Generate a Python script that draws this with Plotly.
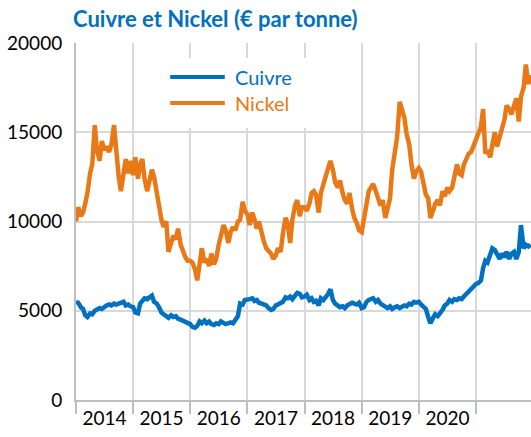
import pandas as pd
import plotly.graph_objects as go

# Semi-monthly prices (EUR per tonne), Jan 2014 - Dec 2021
cuivre = [
    # 2014
    5500, 5450, 5200, 5100, 4750, 4650, 4850, 4800, 5000, 5100, 5150, 5100,
    5250, 5300, 5350, 5300, 5400, 5350, 5400, 5450, 5500, 5300, 5350, 5250,
    # 2015
    5200, 4900, 4850, 5400, 5600, 5700, 5650, 5750, 5850, 5500, 5400, 5200,
    4900, 4800, 4700, 4600, 4750, 4650, 4700, 4550, 4500, 4450, 4350, 4300,
    # 2016
    4250, 4100, 4050, 4150, 4400, 4300, 4450, 4300, 4400, 4250, 4200, 4300,
    4250, 4400, 4300, 4250, 4300, 4350, 4300, 4450, 4700, 5400, 5350, 5600,
    # 2017
    5600, 5650, 5700, 5550, 5600, 5450, 5400, 5350, 5300, 5150, 5050, 5100,
    5300, 5350, 5400, 5500, 5750, 5700, 5800, 5650, 5850, 6000, 5950, 5750,
    # 2018
    5800, 5900, 5600, 5700, 5500, 5550, 5300, 5700, 5600, 5750, 5950, 6200,
    5600, 5400, 5300, 5200, 5250, 5150, 5300, 5350, 5450, 5400, 5350, 5450,
    # 2019
    5150, 5200, 5500, 5600, 5650, 5700, 5500, 5600, 5400, 5300, 5200, 5150,
    5250, 5100, 5200, 5250, 5150, 5200, 5300, 5250, 5400, 5350, 5500, 5450,
    # 2020
    5500, 5350, 5200, 5100, 4650, 4300, 4600, 4800, 4700, 4850, 5050, 5300,
    5400, 5600, 5500, 5650, 5600, 5700, 5650, 5800, 5950, 6100, 6300, 6400,
    # 2021
    6500, 6550, 6700, 7400, 7800, 7700, 8200, 8500, 8400, 8100, 7900, 8200,
    8000, 8300, 7900, 8200, 8300, 7900, 8300, 9800, 8500, 8700, 8600, 8700,
]

nickel = [
    # 2014
    10000, 10800, 10300, 10500, 11000, 11600, 12700, 13200, 15400, 14000, 13400, 14500,
    14000, 14200, 13900, 14300, 15400, 13800, 12500, 11700, 12800, 13500, 12700, 13400,
    # 2015
    12600, 13600, 12400, 13200, 13500, 12400, 11700, 12300, 12900, 12500, 11500, 11000,
    10100, 9700, 10000, 8300, 8800, 9200, 9000, 9600, 8700, 8300, 8000, 7800,
    # 2016
    7800, 7700, 7300, 6700, 7800, 8500, 7700, 7900, 7500, 8200, 7600, 7900,
    8700, 9300, 9800, 9500, 8800, 9400, 9700, 9500, 10000, 10100, 11100, 10600,
    # 2017
    10400, 9800, 10500, 10100, 9600, 10000, 9300, 8900, 8500, 8400, 8200, 7900,
    8100, 8500, 8300, 9300, 10200, 9900, 8800, 10100, 10900, 11200, 10300, 10800,
    # 2018
    10800, 10600, 11000, 11600, 11700, 11500, 10500, 11600, 12200, 12500, 13000, 13400,
    12900, 12200, 11900, 12300, 11600, 11200, 11000, 11600, 10700, 10200, 9900, 9500,
    # 2019
    9400, 10100, 11000, 11700, 11900, 12100, 11700, 11400, 10900, 11200, 10200, 10700,
    11300, 12900, 13700, 14700, 16700, 16300, 15800, 14900, 14300, 13200, 12400, 12800,
    # 2020
    13000, 12800, 12000, 11500, 11300, 10200, 10600, 11000, 11200, 10900, 11700, 11400,
    11900, 11700, 11900, 12500, 13200, 12700, 12600, 13200, 13500, 13800, 13900, 14200,
    # 2021
    14700, 15000, 15300, 16300, 13800, 14000, 13600, 14300, 15000, 14200, 14700, 15300,
    15700, 16500, 16300, 16000, 16500, 16900, 15600, 17000, 17500, 18800, 17700, 18200,
]

years = ["2014", "2015", "2016", "2017", "2018", "2019", "2020"]
y_ticks = [0, 5000, 10000, 15000, 20000]
y_labels = ["0", "5000", "10000", "15000", "20000"]

dates = pd.date_range("2014-01-01", periods=len(cuivre), freq="SMS")

BLUE = "#0070C0"
ORANGE = "#E97817"
GRID = "#D9D9D9"
AXIS = "#BFBFBF"
FONT = "Lato"

fig = go.Figure()
fig.add_trace(go.Scatter(x=dates, y=cuivre, mode="lines", name="Cuivre",
                         line=dict(color=BLUE, width=4.5)))
fig.add_trace(go.Scatter(x=dates, y=nickel, mode="lines", name="Nickel",
                         line=dict(color=ORANGE, width=4.5)))

year_starts = [f"{y}-01-01" for y in range(2014, 2022)]
year_mids = [f"{y}-07-02" for y in years]

fig.update_xaxes(
    range=["2014-01-01", "2021-12-18"],
    tickmode="array", tickvals=year_mids, ticktext=years,
    ticks="", showgrid=False,
    showline=True, linecolor=AXIS, linewidth=2,
    tickfont=dict(family=FONT, size=19, color="#000000"),
    minor=dict(tickmode="array", tickvals=year_starts, showgrid=True,
               gridcolor=GRID, gridwidth=2, ticks="outside", ticklen=12,
               tickwidth=2, tickcolor=AXIS),
)
fig.update_yaxes(
    range=[0, 20000], tickmode="array", tickvals=y_ticks, ticktext=y_labels,
    showgrid=True, gridcolor=GRID, gridwidth=2,
    showline=True, linecolor=AXIS, linewidth=2,
    zeroline=False, ticks="", ticklabelstandoff=8,
    tickfont=dict(family=FONT, size=19, color="#000000"),
)

# Legend box drawn in paper coordinates
legend_items = [("Cuivre", BLUE, 0.905), ("Nickel", ORANGE, 0.832)]
shapes = [dict(type="rect", xref="paper", yref="paper", x0=0.163, x1=0.514,
               y0=0.762, y1=0.958, fillcolor="white", line=dict(width=0),
               layer="above")]
annotations = []
for label, color, ypos in legend_items:
    shapes.append(dict(type="line", xref="paper", yref="paper", x0=0.207,
                       x1=0.327, y0=ypos, y1=ypos,
                       line=dict(color=color, width=4), layer="above"))
    annotations.append(dict(xref="paper", yref="paper", x=0.345, y=ypos,
                            xanchor="left", yanchor="middle", text=label,
                            showarrow=False,
                            font=dict(family=FONT, size=20, color=color)))

fig.update_layout(
    width=531, height=437,
    margin=dict(l=76, r=0, t=43, b=37),
    paper_bgcolor="white", plot_bgcolor="white",
    showlegend=False,
    shapes=shapes, annotations=annotations,
    title=dict(text="<b>Cuivre et Nickel (€ par tonne)</b>",
               x=73 / 531, xanchor="left", y=1 - 19 / 437, yanchor="middle",
               xref="container", yref="container",
               font=dict(family=FONT, size=22, color=BLUE)),
)

fig.write_html("out.html")
